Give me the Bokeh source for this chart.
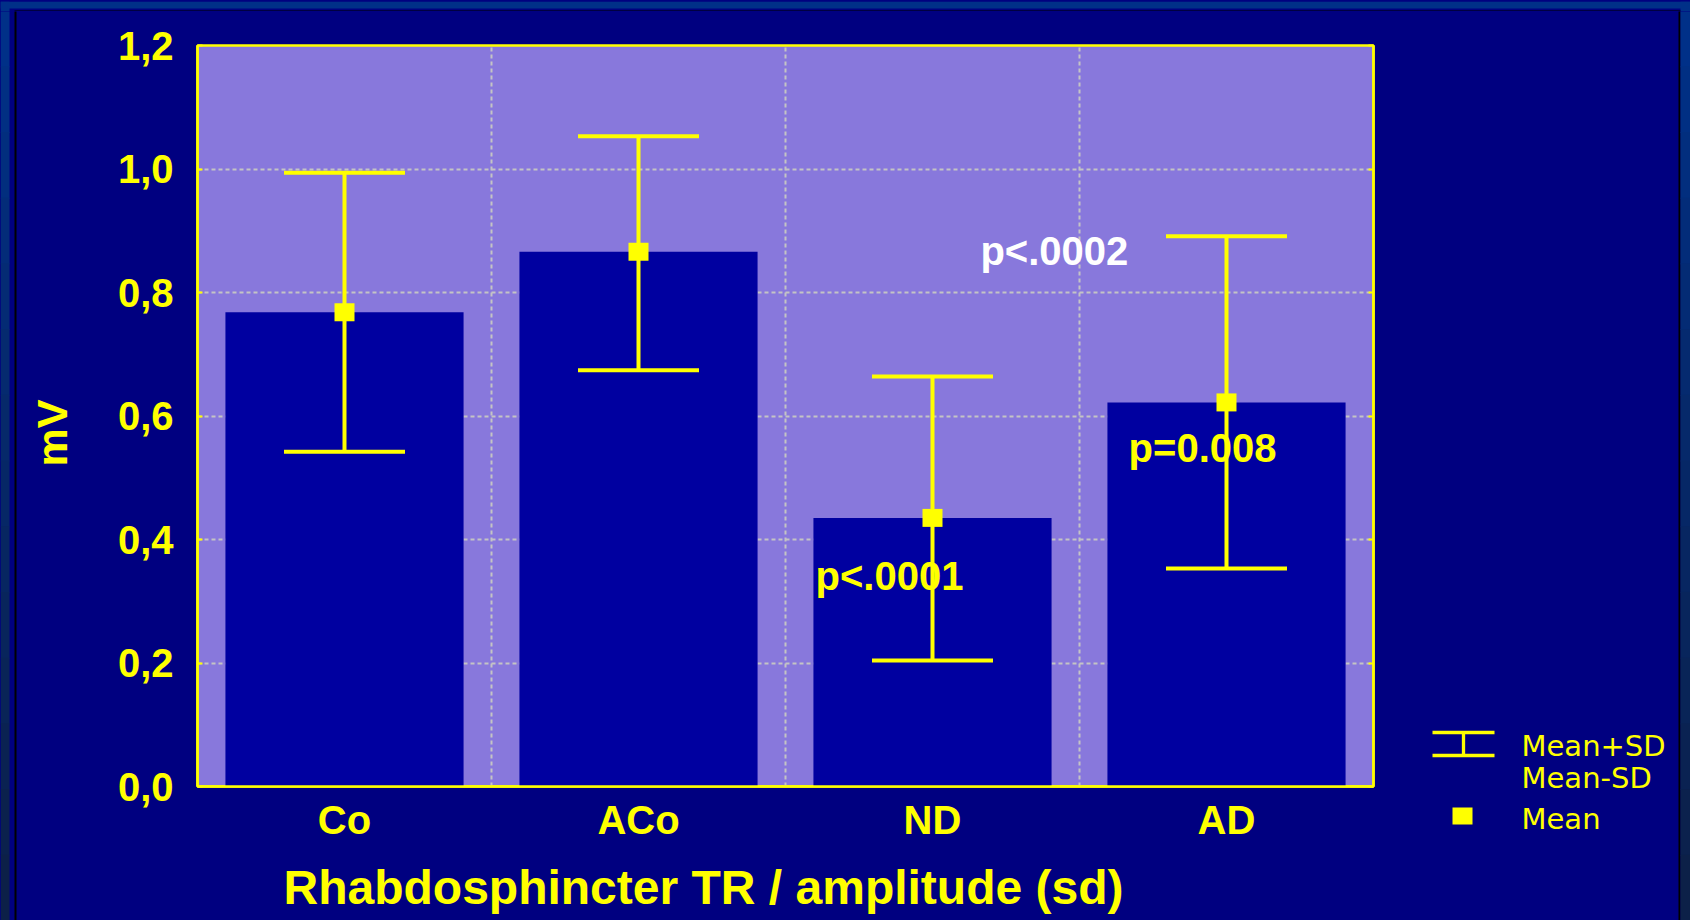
from bokeh.plotting import figure
from bokeh.layouts import row, column
from bokeh.models import (FactorRange, Range1d, Whisker, TeeHead, ColumnDataSource,
                          Label, LinearAxis, FixedTicker)
from bokeh.core.properties import value
from bokeh.embed import file_html
from bokeh.resources import INLINE

# ---- data ----
categories = ["Co", "ACo", "ND", "AD"]
means = [0.768, 0.866, 0.435, 0.622]
upper = [0.994, 1.053, 0.664, 0.891]
lower = [0.542, 0.674, 0.204, 0.353]
y_ticks = [0.0, 0.2, 0.4, 0.6, 0.8, 1.0, 1.2]
y_tick_labels = ["0,0", "0,2", "0,4", "0,6", "0,8", "1,0", "1,2"]
x_title = "Rhabdosphincter TR / amplitude (sd)"
y_title = "mV"
p_texts = ["p<.0002", "p=0.008", "p<.0001"]
legend_texts = ["Mean+SD", "Mean-SD", "Mean"]

# ---- styles ----
YEL = "#FFFF00"
NAVY = "#000080"
LAV = "#8878DC"
BAR = "#0000A0"
GRID = "#C4C4C4"
EDGE_TOP = (0x00, 0x30, 0x88)
EDGE_BOT = (0x0C, 0x20, 0x48)
FONT = "Liberation Sans"
BG_STYLE = {"background-color": NAVY}


def strip_fig(x0, x1, y0, y1):
    """A decoration panel whose data coordinates are page pixels (y downwards)."""
    f = figure(x_range=Range1d(x0, x1), y_range=Range1d(y1, y0),
               frame_width=x1 - x0, frame_height=y1 - y0,
               min_border_left=0, min_border_right=0, min_border_top=0, min_border_bottom=0,
               x_axis_type=None, y_axis_type=None, title=None,
               output_backend="svg", toolbar_location=None, styles=BG_STYLE)
    f.frame_align = False
    f.background_fill_color = NAVY
    f.border_fill_color = NAVY
    f.outline_line_color = None
    f.grid.visible = False
    return f


def edge_gradient(f, xa, xb, n=14):
    for i in range(n):
        t = i / (n - 1)
        c = tuple(int(round(a + (b - a) * t)) for a, b in zip(EDGE_TOP, EDGE_BOT))
        f.quad(left=[xa], right=[xb], top=[920 * i / n], bottom=[920 * (i + 1) / n + 1],
               fill_color="#%02x%02x%02x" % c, line_color=None)


# ---- main chart ----
p = figure(x_range=FactorRange(factors=categories), y_range=Range1d(0, 1.2),
           frame_width=1176, frame_height=741, title=None,
           min_border_left=97, min_border_top=34, min_border_right=30, min_border_bottom=74,
           output_backend="svg", toolbar_location=None, styles=BG_STYLE)
p.frame_align = False
p.background_fill_color = LAV
p.border_fill_color = NAVY
p.outline_line_color = YEL
p.outline_line_width = 2.5

src = ColumnDataSource(data=dict(cat=categories, mean=means, upper=upper, lower=lower))

p.vbar(x="cat", top="mean", width=0.81, source=src, fill_color=BAR, line_color=None)

wh = Whisker(base="cat", upper="upper", lower="lower", source=src,
             line_color=YEL, line_width=4, level="overlay",
             upper_head=TeeHead(size=121, line_color=YEL, line_width=4),
             lower_head=TeeHead(size=121, line_color=YEL, line_width=4))
p.add_layout(wh)

p.rect(x="cat", y="mean", width=20, height=18, width_units="screen", height_units="screen",
       source=src, fill_color=YEL, line_color=None)

p.yaxis.ticker = FixedTicker(ticks=y_ticks)
p.yaxis.major_label_overrides = {t: l for t, l in zip(y_ticks, y_tick_labels)}
for ax in (p.xaxis[0], p.yaxis[0]):
    ax.axis_line_color = YEL
    ax.axis_line_width = 2.5
    ax.major_label_text_color = YEL
    ax.major_label_text_font = FONT
    ax.major_label_text_font_style = "bold"
    ax.major_label_text_font_size = "40px"
    ax.minor_tick_line_color = None
p.yaxis.major_tick_in = 5
p.yaxis.major_tick_out = 0
p.yaxis.major_tick_line_color = YEL
p.yaxis.major_tick_line_width = 2
p.yaxis.major_label_standoff = 24
p.xaxis.major_tick_line_color = None
p.xaxis.major_label_standoff = 5

rax = LinearAxis(ticker=FixedTicker(ticks=y_ticks), major_label_text_color=None,
                 major_label_text_font_size="1px",
                 axis_line_color=YEL, axis_line_width=2.5, major_tick_in=5, major_tick_out=0,
                 major_tick_line_color=YEL, major_tick_line_width=2, minor_tick_line_color=None,
                 major_label_standoff=0)
p.add_layout(rax, "right")

p.ygrid.ticker = FixedTicker(ticks=y_ticks[1:-1])
p.xgrid.ticker = FixedTicker(ticks=[1, 2, 3])
for g in (p.xgrid[0], p.ygrid[0]):
    g.grid_line_color = GRID
    g.grid_line_dash = "4 3"
    g.grid_line_width = 2

p_pos = [(2.663, 0.8664, "white"), (3.167, 0.5474, YEL), (2.102, 0.3401, YEL)]
for txt, (x, y, c) in zip(p_texts, p_pos):
    p.add_layout(Label(x=x, y=y, text=txt, text_color=c, text_font=FONT,
                       text_font_style="bold", text_font_size="40px",
                       text_align="left", text_baseline="middle"))

# ---- decoration panels around the chart ----
top = strip_fig(0, 1690, 0, 11)
top.quad(left=[0], right=[1690], top=[0], bottom=[7], fill_color="#003088", line_color=None)
top.quad(left=[0], right=[9], top=[0], bottom=[11], fill_color="#003088", line_color=None)
top.quad(left=[1680], right=[1690], top=[0], bottom=[11], fill_color="#003088", line_color=None)
top.quad(left=[14], right=[1680], top=[9], bottom=[11], fill_color="black", line_color=None)

left = strip_fig(0, 100, 11, 920)
edge_gradient(left, 0, 9)
left.quad(left=[14], right=[16], top=[9], bottom=[921], fill_color="black", line_color=None)
left.text(x=[51], y=[432.5], text=[y_title], angle=1.5707963, text_color=YEL,
          text_font=value(FONT), text_font_style="bold", text_font_size="43px",
          text_align="center", text_baseline="middle")

bottom = strip_fig(100, 1403, 860, 920)
bottom.text(x=[703], y=[886.5], text=[x_title], text_color=YEL,
            text_font=value(FONT), text_font_style="bold", text_font_size="48px",
            text_align="center", text_baseline="middle")

leg = strip_fig(1403, 1690, 11, 920)
leg.quad(left=[1678], right=[1680], top=[9], bottom=[921], fill_color="black", line_color=None)
edge_gradient(leg, 1680, 1690)
leg.segment(x0=[1432, 1432, 1463], y0=[732, 755, 732], x1=[1494, 1494, 1463], y1=[732, 755, 755],
            line_color=YEL, line_width=3.3)
leg.rect(x=[1462], y=[815.5], width=20, height=17, fill_color=YEL, line_color=None)
leg.text(x=[1521, 1521, 1521], y=[745.5, 777.5, 818.5], text=legend_texts, text_color=YEL,
         text_font=value("DejaVu Sans"), text_font_size="29px",
         text_align="left", text_baseline="middle")

inner = column(p, bottom, spacing=0, styles=BG_STYLE)
mid = row(left, inner, leg, spacing=0, styles=BG_STYLE)
layout = column(top, mid, spacing=0, styles=BG_STYLE)
open("out.html", "w").write(file_html(layout, INLINE))
